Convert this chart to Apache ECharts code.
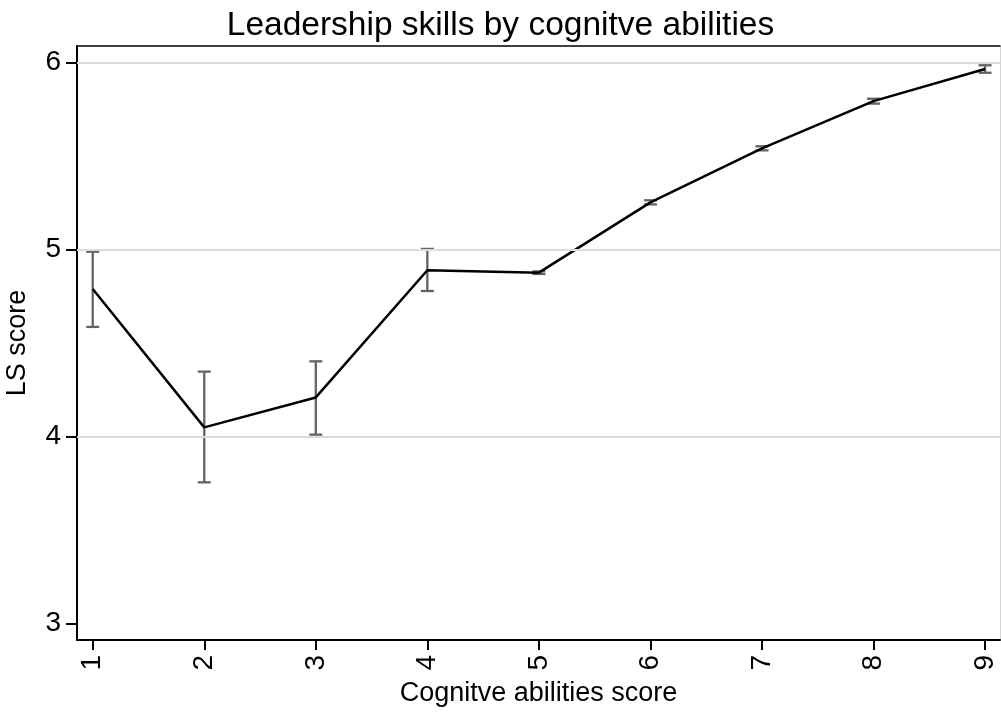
<!DOCTYPE html>
<html>
<head>
<meta charset="utf-8">
<script src="https://cdn.jsdelivr.net/npm/echarts@6/dist/echarts.min.js"></script>
<style>
  html, body { margin: 0; padding: 0; background: #fff; }
  #chart { width: 1001px; height: 712px; }
</style>
</head>
<body>
<div id="chart"></div>
<script>
// 数据
const scores = [1, 2, 3, 4, 5, 6, 7, 8, 9];
const meanLS = [4.79, 4.05, 4.21, 4.89, 4.877, 5.253, 5.542, 5.794, 5.966];
const lowerLS = [4.587, 3.756, 4.011, 4.779, 4.870, 5.242, 5.531, 5.781, 5.946];
const upperLS = [4.989, 4.348, 4.403, 5.004, 4.884, 5.264, 5.553, 5.807, 5.986];
const yTicks = [3, 4, 5, 6];
const gridValues = [4, 5, 6];

const FONT = "Liberation Sans";

const chart = echarts.init(document.getElementById("chart"));

const lineData = scores.map((s, i) => [s, meanLS[i]]);
const capData = scores.map((s, i) => [s, lowerLS[i], upperLS[i]]);

const option = {
  backgroundColor: "#fff",
  animation: false,
  title: {
    text: "Leadership skills by cognitve abilities",
    left: "center",
    top: 4,
    textStyle: { fontFamily: FONT, fontSize: 33.5, fontWeight: "normal", color: "#000" },
  },
  grid: { left: 77, right: 1, top: 46, bottom: 72, outerBoundsMode: "none" },
  xAxis: [
    {
      type: "value",
      min: 0.859,
      max: 9.134,
      name: "Cognitve abilities score",
      nameLocation: "middle",
      nameGap: 40,
      nameTextStyle: { fontFamily: FONT, fontSize: 27, color: "#000" },
      axisLine: { show: true, onZero: false, lineStyle: { color: "#000", width: 2 } },
      axisTick: { show: true, length: 10, customValues: scores, lineStyle: { color: "#000", width: 2 } },
      axisLabel: {
        rotate: 90,
        margin: 15,
        customValues: scores,
        fontFamily: FONT,
        fontSize: 28,
        color: "#000",
      },
      splitLine: { show: false },
    },
    {
      // 上边框
      type: "value",
      position: "top",
      min: 0.859,
      max: 9.134,
      axisLine: { show: true, onZero: false, lineStyle: { color: "#000", width: 1.5 } },
      axisTick: { show: false },
      axisLabel: { show: false },
      splitLine: { show: false },
    },
  ],
  yAxis: [
    {
      type: "value",
      min: 2.913,
      max: 6.089,
      name: "LS score",
      nameLocation: "middle",
      nameGap: 46,
      nameTextStyle: { fontFamily: FONT, fontSize: 27, color: "#000" },
      axisLine: { show: true, onZero: false, lineStyle: { color: "#000", width: 2 } },
      axisTick: { show: true, length: 11, customValues: yTicks, lineStyle: { color: "#000", width: 2 } },
      axisLabel: {
        margin: 16,
        customValues: yTicks,
        fontFamily: FONT,
        fontSize: 28,
        color: "#000",
      },
      splitLine: { show: false },
    },
    {
      // 右边框
      type: "value",
      position: "right",
      min: 2.913,
      max: 6.089,
      axisLine: { show: true, onZero: false, lineStyle: { color: "#d4d4d4", width: 1 } },
      axisTick: { show: false },
      axisLabel: { show: false },
      splitLine: { show: false },
    },
  ],
  series: [
    {
      // 网格线
      type: "line",
      data: [],
      z: 1,
      silent: true,
      markLine: {
        silent: true,
        symbol: "none",
        label: { show: false },
        lineStyle: { color: "#dcdcdc", width: 2, type: "solid" },
        data: gridValues.map((v) => ({ yAxis: v })),
      },
    },
    {
      name: "CI",
      type: "custom",
      z: 3,
      data: capData,
      renderItem: function (params, api) {
        const x = api.value(0);
        const lo = api.coord([x, api.value(1)]);
        const hi = api.coord([x, api.value(2)]);
        const hw = 6.5;
        const style = { stroke: "#636363", lineWidth: 2.3 };
        return {
          type: "group",
          children: [
            { type: "line", shape: { x1: lo[0], y1: lo[1], x2: hi[0], y2: hi[1] }, style: style },
            { type: "line", shape: { x1: lo[0] - hw, y1: lo[1], x2: lo[0] + hw, y2: lo[1] }, style: style },
            { type: "line", shape: { x1: hi[0] - hw, y1: hi[1], x2: hi[0] + hw, y2: hi[1] }, style: style },
          ],
        };
      },
    },
    {
      name: "Mean",
      type: "line",
      z: 4,
      data: lineData,
      showSymbol: false,
      symbol: "none",
      lineStyle: { color: "#000", width: 2.5 },
    },
  ],
};

chart.setOption(option);
</script>
</body>
</html>
